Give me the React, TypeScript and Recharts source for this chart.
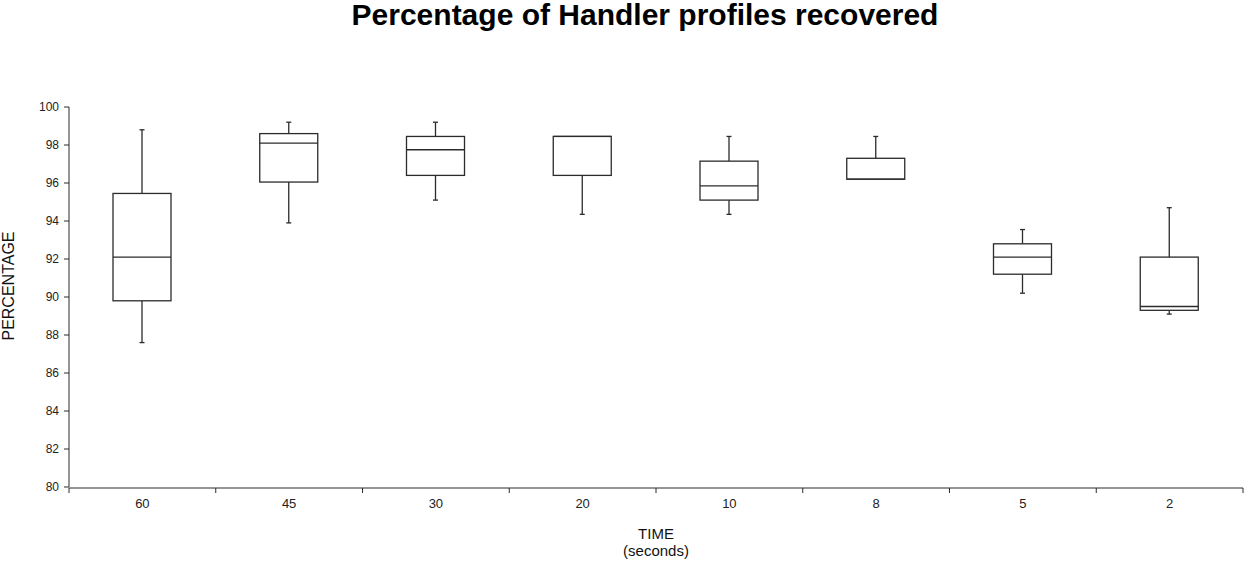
import { ComposedChart, Bar, Line, XAxis, YAxis } from "recharts";

const categories = ["60", "45", "30", "20", "10", "8", "5", "2"];
const whiskerHigh = [98.8, 99.2, 99.2, 98.45, 98.45, 98.45, 93.55, 94.7];
const upperQuartile = [95.45, 98.6, 98.45, 98.45, 97.15, 97.3, 92.8, 92.1];
const medians = [92.1, 98.1, 97.75, 98.45, 95.85, 96.2, 92.1, 89.5];
const lowerQuartile = [89.8, 96.05, 96.4, 96.4, 95.1, 96.2, 91.2, 89.3];
const whiskerLow = [87.6, 93.9, 95.1, 94.35, 94.35, 96.2, 90.2, 89.1];
const yTicks = [80, 82, 84, 86, 88, 90, 92, 94, 96, 98, 100];
const edgeTicks = [0, 1, 2, 3, 4, 5, 6, 7, 8];

const data = categories.map((time, i) => ({
    time,
    slot: i + 0.5,
    range: [whiskerLow[i], whiskerHigh[i]],
    hi: whiskerHigh[i],
    q3: upperQuartile[i],
    med: medians[i],
    q1: lowerQuartile[i],
    lo: whiskerLow[i],
}));

const ink = "#2b2b2b";
const font = "'Liberation Sans', Arial, sans-serif";

// draws a box + whiskers; bar spans lo..hi so values map linearly onto y..y+height
const BoxShape = (props: any) => {
    const { x, y, width, height, payload } = props;
    const top = Math.min(y, y + height);
    const bottom = Math.max(y, y + height);
    const span = payload.hi - payload.lo;
    const py = (v: number) => top + ((payload.hi - v) / span) * (bottom - top);
    const cx = x + width / 2;
    const cap = 2.5;
    return (
        <g stroke={ink} strokeWidth={1.3} fill="none">
            {payload.hi > payload.q3 && (
                <>
                    <line x1={cx} x2={cx} y1={py(payload.hi)} y2={py(payload.q3)} />
                    <line x1={cx - cap} x2={cx + cap} y1={py(payload.hi)} y2={py(payload.hi)} />
                </>
            )}
            {payload.lo < payload.q1 && (
                <>
                    <line x1={cx} x2={cx} y1={py(payload.q1)} y2={py(payload.lo)} />
                    <line x1={cx - cap} x2={cx + cap} y1={py(payload.lo)} y2={py(payload.lo)} />
                </>
            )}
            <rect x={x} y={py(payload.q3)} width={width} height={py(payload.q1) - py(payload.q3)} fill="#fff" />
            <line x1={x} x2={x + width} y1={py(payload.med)} y2={py(payload.med)} />
        </g>
    );
};

export default function App() {
    return (
        <div style={{ position: "absolute", left: 0, top: 0, width: 1245, height: 562, background: "#fff", fontFamily: font }}>
            <div style={{ position: "absolute", left: 58, width: 1174, top: 0, lineHeight: "30px", textAlign: "center", fontSize: 30, fontWeight: 700, color: "#000" }}>
                Percentage of Handler profiles recovered
            </div>
            <div
                style={{
                    position: "absolute",
                    left: 8.5 - 70,
                    top: 286 - 10,
                    width: 140,
                    height: 20,
                    lineHeight: "20px",
                    textAlign: "center",
                    fontSize: 16,
                    color: "#111",
                    transform: "rotate(-90deg)",
                }}
            >
                PERCENTAGE
            </div>
            <ComposedChart
                width={1245}
                height={562}
                data={data}
                margin={{ top: 107, right: 2, left: 0, bottom: 73 }}
                style={{ fontFamily: font }}
            >
                <XAxis
                    xAxisId="cat"
                    dataKey="time"
                    height={1}
                    axisLine={false}
                    tickLine={false}
                    tickSize={0}
                    tickMargin={12}
                    tick={{ fontSize: 13, fill: "#222" }}
                    interval={0}
                />
                <XAxis
                    xAxisId="edge"
                    dataKey="slot"
                    type="number"
                    domain={[0, 8]}
                    ticks={edgeTicks}
                    height={1}
                    tickFormatter={() => ""}
                    tickSize={5}
                    axisLine={{ stroke: ink }}
                    tickLine={{ stroke: ink }}
                />
                <YAxis
                    domain={[80, 100]}
                    ticks={yTicks}
                    width={69}
                    tickSize={5}
                    tickMargin={5}
                    axisLine={{ stroke: ink }}
                    tickLine={{ stroke: ink }}
                    tick={{ fontSize: 12, fill: "#222" }}
                />
                <Bar xAxisId="cat" dataKey="range" barSize={58} shape={<BoxShape />} isAnimationActive={false} />
                <Line xAxisId="edge" dataKey="med" stroke="none" dot={false} activeDot={false} legendType="none" isAnimationActive={false} />
            </ComposedChart>
            <div style={{ position: "absolute", left: 69, width: 1174, top: 524.5, textAlign: "center", fontSize: 15, color: "#111", lineHeight: "17px" }}>
                TIME
                <br />
                (seconds)
            </div>
        </div>
    );
}
